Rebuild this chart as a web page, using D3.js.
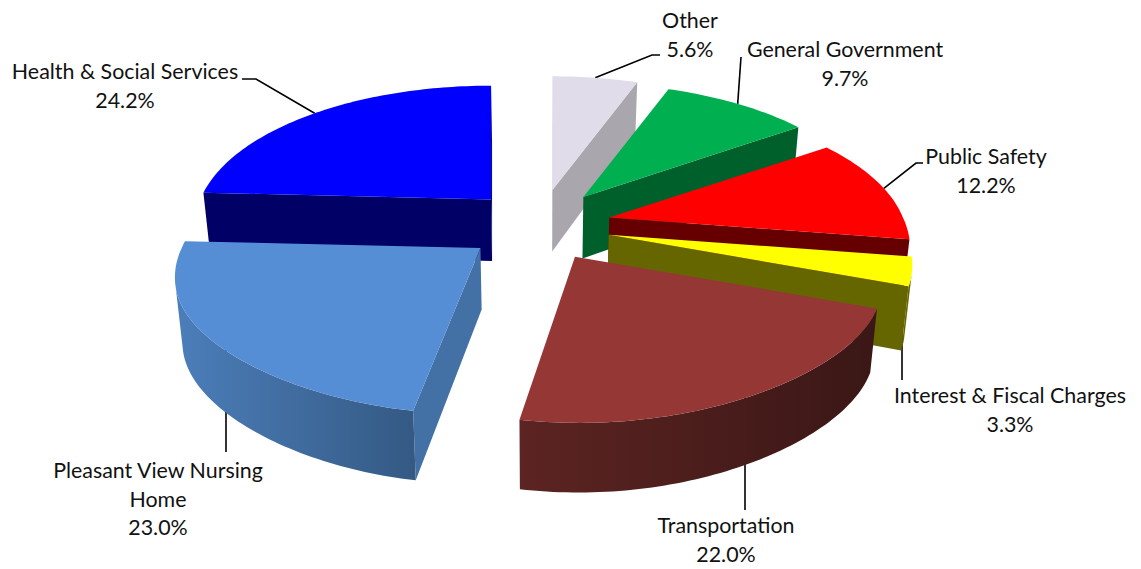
<!DOCTYPE html>
<html><head><meta charset="utf-8">
<script src="https://cdn.jsdelivr.net/npm/d3@7/dist/d3.min.js"></script>
<style>html,body{margin:0;padding:0;background:#fff}svg{display:block}text{font-family:Lato,"Open Sans",sans-serif;font-size:21.4px;fill:#111;text-anchor:middle}</style>
</head><body><svg id="c" width="1141" height="569"></svg>
<script>
const categories = ["Other","General Government","Public Safety","Interest & Fiscal Charges","Transportation","Pleasant View Nursing Home","Health & Social Services"];
const values = [5.6,9.7,12.2,3.3,22.0,23.0,24.2];
const topColors = ["#e0dcea","#00b050","#ff0000","#ffff00","#953735","#558ed5","#0000ff"];
const sideColors = ["#a9a6ae","#00602c","#660000","#666600","#3b1716","#4471a5","#000066"];
const wallFrom = ["#a9a6ae","#00602c","#660000","#666600","#5c2422","#4c7eba","#000066"];
const wallTo = ["#a9a6ae","#00602c","#660000","#666600","#3a1716","#345a84","#000066"];
const drawOrder = [0,6,1,2,3,5,4];
const labelLines = [["Other","5.6%"],["General Government","9.7%"],["Public Safety","12.2%"],["Interest & Fiscal Charges","3.3%"],["Transportation","22.0%"],["Pleasant View Nursing","Home","23.0%"],["Health & Social Services","24.2%"]];

// layout, not data
const labelX = [690,845,986,1010,726,158,125];
const labelY = [28,57,164,403,533,478,79];
const lineGap = 28.6;
const leaderVia = [[[652,55],[660,55]],[[741,57]],[[916,163],[923,163]],[[902,380]],[[745,510]],[[226,452]],[[256,79],[242,79]]];
const nudgeX = [0,0,0,0,0,-4,0];
const P = {cx:540,cy:225.5,rx:295,ry:135,k:0.187,ex:71,ey:36,grow:0.02,h:61.5,conv:0.98};

const svg = d3.select("#c"), defs = svg.append("defs");
const pie = d3.pie().sort(null).value(d=>d)(values);
const line = d3.line();
// sc = slice offset direction, (u,v) = point on the unit disc relative to the slice apex
const project = (sl,u,v,bottom)=>{
  const sc = sl.sc;
  const s = 1/(1-P.k*v);
  const f = Math.max(0,v-0.3);
  const sx = s*(1-0.14*f*f);
  const off = P.ex*sc[0]*(1+0.135*Math.max(0,v)) + nudgeX[sl.i];
  let x = P.cx + off + P.rx*(1+P.grow*sc[1])*u*sx;
  let y = P.cy + P.ey*sc[1] + P.ry*v*s;
  if(bottom){ y += P.h*Math.pow(s,0.6); x = P.cx + (x-P.cx)*P.conv; }
  return [x,y];
};
const slices = pie.map((a,i)=>{
  const mid=(a.startAngle+a.endAngle)/2;
  const sc=[Math.sin(mid),-Math.cos(mid)];
  const n=Math.ceil((a.endAngle-a.startAngle)/0.02);
  const rim=d3.range(n+1).map(j=>{const t=a.startAngle+(a.endAngle-a.startAngle)*j/n;return [Math.sin(t),-Math.cos(t)];});
  return {i,mid,sc,rim};
});
const facing=(sl,a,b)=>d3.polygonArea([project(sl,a[0],a[1]),project(sl,b[0],b[1]),project(sl,b[0],b[1],true),project(sl,a[0],a[1],true)])>0;
const wallPath=(sl,pts)=>{
  const t=pts.map(p=>project(sl,p[0],p[1]));
  const b=pts.map(p=>project(sl,p[0],p[1],true)).reverse();
  return line(t.concat(b))+"Z";
};
// leaders go underneath the pie, so they stop where a slice begins
slices.forEach(s=>{
  const via=leaderVia[s.i];
  let start=project(s,s.sc[0],s.sc[1]);
  if(s.sc[1]>0) start=[via[0][0],start[1]];
  svg.append("path").attr("d",line([start].concat(via))).attr("fill","none").attr("stroke","#000").attr("stroke-width",1.6);
});
drawOrder.forEach(idx=>{
  const s=slices[idx], g=svg.append("g"), O=[0,0];
  const first=s.rim[0], last=s.rim[s.rim.length-1];
  if(facing(s,O,first)) g.append("path").attr("d",wallPath(s,[O,first])).attr("fill",sideColors[idx]);
  if(facing(s,last,O)) g.append("path").attr("d",wallPath(s,[last,O])).attr("fill",sideColors[idx]);
  const run=s.rim.filter((p,j)=>{
    const a=j<s.rim.length-1?p:s.rim[j-1], b=j<s.rim.length-1?s.rim[j+1]:p;
    return facing(s,a,b);
  });
  if(run.length>1){
    const xs=run.map(p=>project(s,p[0],p[1])[0]);
    const id="w"+idx;
    const gr=defs.append("linearGradient").attr("id",id).attr("gradientUnits","userSpaceOnUse")
      .attr("x1",d3.min(xs)).attr("x2",d3.max(xs)).attr("y1",0).attr("y2",0);
    gr.append("stop").attr("offset",0).attr("stop-color",wallFrom[idx]);
    gr.append("stop").attr("offset",1).attr("stop-color",wallTo[idx]);
    g.append("path").attr("d",wallPath(s,run)).attr("fill",`url(#${id})`);
  }
  const top=[O].concat(s.rim).map(p=>project(s,p[0],p[1]));
  g.append("path").attr("d",line(top)+"Z").attr("fill",topColors[idx]);
});
slices.forEach(s=>{
  const t=svg.append("text");
  labelLines[s.i].forEach((l,j)=>t.append("tspan").attr("x",labelX[s.i]).attr("y",labelY[s.i]+j*lineGap).text(l));
});
</script></body></html>
